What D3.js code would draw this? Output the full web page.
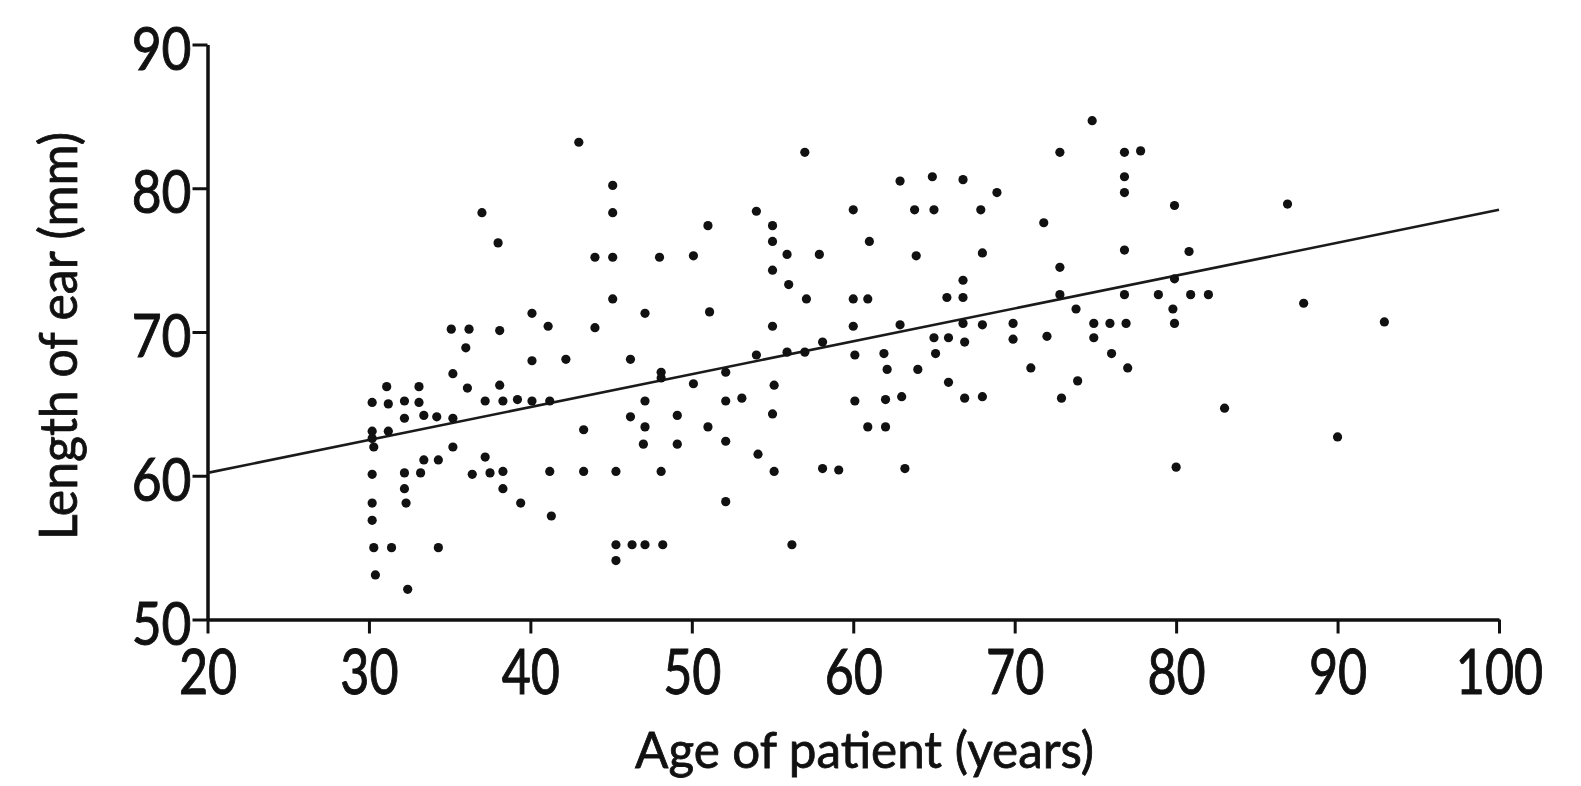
<!DOCTYPE html>
<html>
<head>
<meta charset="utf-8">
<script src="https://cdn.jsdelivr.net/npm/d3@7"></script>
<style>
  html, body { margin: 0; padding: 0; background: #ffffff; }
  svg { display: block; }
  text { font-family: Lato, "Open Sans", sans-serif; fill: #111; }
</style>
</head>
<body>
<svg id="chart" width="1581" height="786"></svg>
<script>
// ---- data ----
const ages = [
  37.0, 38.0, 40.1, 35.1, 36.2, 38.1, 36.0, 40.1, 35.2, 31.1,
  33.1, 36.1, 38.1, 30.2, 31.2, 32.2, 33.1, 37.2, 38.3, 39.2,
  40.1, 32.2, 33.4, 34.2, 35.2, 30.2, 31.2, 30.2, 30.3, 35.2,
  33.4, 34.3, 37.2, 30.2, 32.2, 33.2, 36.4, 37.5, 38.3, 38.3,
  32.2, 39.4, 30.2, 32.3, 30.2, 30.3, 31.4, 34.3, 30.4, 32.4,
  43.0, 45.1, 45.1, 44.0, 45.1, 48.0, 50.1, 51.0, 57.0, 54.0,
  55.0, 55.0, 55.9, 57.9, 55.0, 56.0, 57.1, 60.0, 61.0, 60.0,
  60.9, 41.1, 44.0, 47.1, 51.1, 55.0, 60.0, 45.1,
  42.2, 46.2, 48.1, 48.1, 52.1, 54.0, 55.9, 57.0, 58.1, 60.1,
  41.2, 47.1, 50.1, 52.1, 53.1, 55.1, 60.1, 46.2, 49.1, 55.0,
  43.3, 47.1, 51.0, 60.9, 47.0, 49.1, 52.1, 54.1, 41.2, 43.3,
  45.3, 48.1, 55.1, 58.1, 59.1, 41.3, 52.1, 45.3, 46.3, 47.1,
  48.2, 45.3, 56.2,
  62.9, 64.9, 66.8, 68.9, 63.8, 65.0, 67.9, 71.8, 72.8, 74.8,
  76.8, 77.8, 76.8, 76.8, 79.9, 63.9, 68.0, 76.8, 80.8, 72.8,
  66.8, 65.8, 66.8, 72.8, 76.8, 78.9, 80.9, 79.9, 73.8, 79.8,
  62.9, 66.8, 68.0, 69.9, 74.9, 75.9, 76.9, 79.9,
  65.0, 65.9, 66.9, 69.9, 72.0, 74.9, 61.9, 65.1, 76.0, 62.1,
  64.0, 71.0, 77.0, 65.9, 73.9, 62.0, 63.0, 66.9, 68.0, 72.9,
  62.0, 63.2, 80.0,
  86.9, 82.0, 87.9, 92.9, 83.0, 90.0
];
const earLengths = [
  78.3, 76.2, 71.3, 70.2, 70.2, 70.1, 68.9, 68.0, 67.1, 66.2,
  66.2, 66.1, 66.3, 65.1, 65.0, 65.2, 65.1, 65.2, 65.2, 65.3,
  65.2, 64.0, 64.2, 64.1, 64.0, 63.1, 63.1, 62.6, 62.0, 62.0,
  61.1, 61.1, 61.3, 60.1, 60.2, 60.2, 60.1, 60.2, 60.3, 59.1,
  59.1, 58.1, 58.1, 58.1, 56.9, 55.0, 55.0, 55.0, 53.1, 52.1,
  83.2, 80.2, 78.3, 75.2, 75.2, 75.2, 75.3, 77.4, 82.5, 78.4,
  77.4, 76.3, 75.4, 75.4, 74.3, 73.3, 72.3, 78.5, 76.3, 72.3,
  72.3, 70.4, 70.3, 71.3, 71.4, 70.4, 70.4, 72.3,
  68.1, 68.1, 67.2, 66.8, 67.2, 68.4, 68.6, 68.6, 69.3, 68.4,
  65.2, 65.2, 66.4, 65.2, 65.4, 66.3, 65.2, 64.1, 64.2, 64.3,
  63.2, 63.4, 63.4, 63.4, 62.2, 62.2, 62.4, 61.5, 60.3, 60.3,
  60.3, 60.3, 60.3, 60.5, 60.4, 57.2, 58.2, 55.2, 55.2, 55.2,
  55.2, 54.1, 55.2,
  80.5, 80.8, 80.6, 79.7, 78.5, 78.5, 78.5, 77.6, 82.5, 84.7,
  82.5, 82.6, 80.8, 79.7, 78.8, 75.3, 75.5, 75.7, 75.6, 74.5,
  73.6, 72.4, 72.4, 72.6, 72.6, 72.6, 72.6, 73.7, 71.6, 71.6,
  70.5, 70.6, 70.5, 70.6, 70.6, 70.6, 70.6, 70.6,
  69.6, 69.6, 69.3, 69.5, 69.7, 69.6, 68.5, 68.5, 68.5, 67.4,
  67.4, 67.5, 67.5, 66.5, 66.6, 65.3, 65.5, 65.4, 65.5, 65.4,
  63.4, 60.5, 60.6,
  78.9, 72.6, 72.0, 70.7, 64.7, 62.7
];
// fitted regression line end points
const lineAges = [20, 100];
const lineLengths = [60.2, 78.5];

const xTicks = [20, 30, 40, 50, 60, 70, 80, 90, 100];
const yTicks = [50, 60, 70, 80, 90];
const xTitle = "Age of patient (years)";
const yTitle = "Length of ear (mm)";

// ---- drawing ----
const svg = d3.select("#chart");
const x = d3.scaleLinear().domain([20, 100]).range([207.5, 1499]);
const y = d3.scaleLinear().domain([50, 90]).range([619.5, 44.5]);

const points = ages.map((a, i) => ({ a, l: earLengths[i] }));

// x axis
const sxX = 0.81, fsX = 62;
const gx = svg.append("g")
  .attr("transform", `translate(0,${y(50)})`)
  .call(d3.axisBottom(x).tickValues(xTicks).tickSize(14).tickSizeOuter(0).tickFormat(d3.format("d")));
gx.select(".domain").attr("stroke", "#111").attr("stroke-width", 3.5);
gx.selectAll(".tick line").attr("stroke", "#111").attr("stroke-width", 3);
gx.selectAll(".tick text")
  .attr("y", 75).attr("dy", 0)
  .attr("transform", `scale(${sxX},1)`)
  .style("font-size", fsX + "px")
  .style("font-family", "Lato, sans-serif")
  .attr("fill", "#111").attr("stroke", "#111").attr("stroke-width", 1);

// y axis
const sxY = 0.86, fsY = 60;
const gy = svg.append("g")
  .attr("transform", `translate(${x(20)},0)`)
  .call(d3.axisLeft(y).tickValues(yTicks).tickSize(15).tickSizeOuter(0).tickFormat(d3.format("d")));
gy.select(".domain").attr("stroke", "#111").attr("stroke-width", 3.5);
gy.selectAll(".tick line").attr("stroke", "#111").attr("stroke-width", 3);
gy.selectAll(".tick text")
  .attr("x", -16 / sxY).attr("dy", 0).attr("y", 0.36 * fsY + 3)
  .attr("transform", `scale(${sxY},1)`)
  .style("font-size", fsY + "px")
  .style("font-family", "Lato, sans-serif")
  .attr("fill", "#111").attr("stroke", "#111").attr("stroke-width", 1);

// regression line
svg.append("path")
  .datum(lineAges.map((a, i) => [a, lineLengths[i]]))
  .attr("fill", "none")
  .attr("stroke", "#1a1a1a")
  .attr("stroke-width", 2.6)
  .attr("d", d3.line().x(d => x(d[0])).y(d => y(d[1])));

// points
svg.append("g").selectAll("circle")
  .data(points)
  .join("circle")
  .attr("cx", d => x(d.a))
  .attr("cy", d => y(d.l))
  .attr("r", 4.6)
  .attr("fill", "#111");

// titles
svg.append("text")
  .attr("x", 864.5).attr("y", 768)
  .attr("text-anchor", "middle")
  .attr("textLength", 459).attr("lengthAdjust", "spacingAndGlyphs")
  .style("font-size", "50px")
  .attr("stroke", "#111").attr("stroke-width", 0.8)
  .text(xTitle);

svg.append("text")
  .attr("transform", "translate(77,336) rotate(-90)")
  .attr("text-anchor", "middle")
  .attr("textLength", 408).attr("lengthAdjust", "spacingAndGlyphs")
  .style("font-size", "52px")
  .attr("stroke", "#111").attr("stroke-width", 0.8)
  .text(yTitle);
</script>
</body>
</html>
